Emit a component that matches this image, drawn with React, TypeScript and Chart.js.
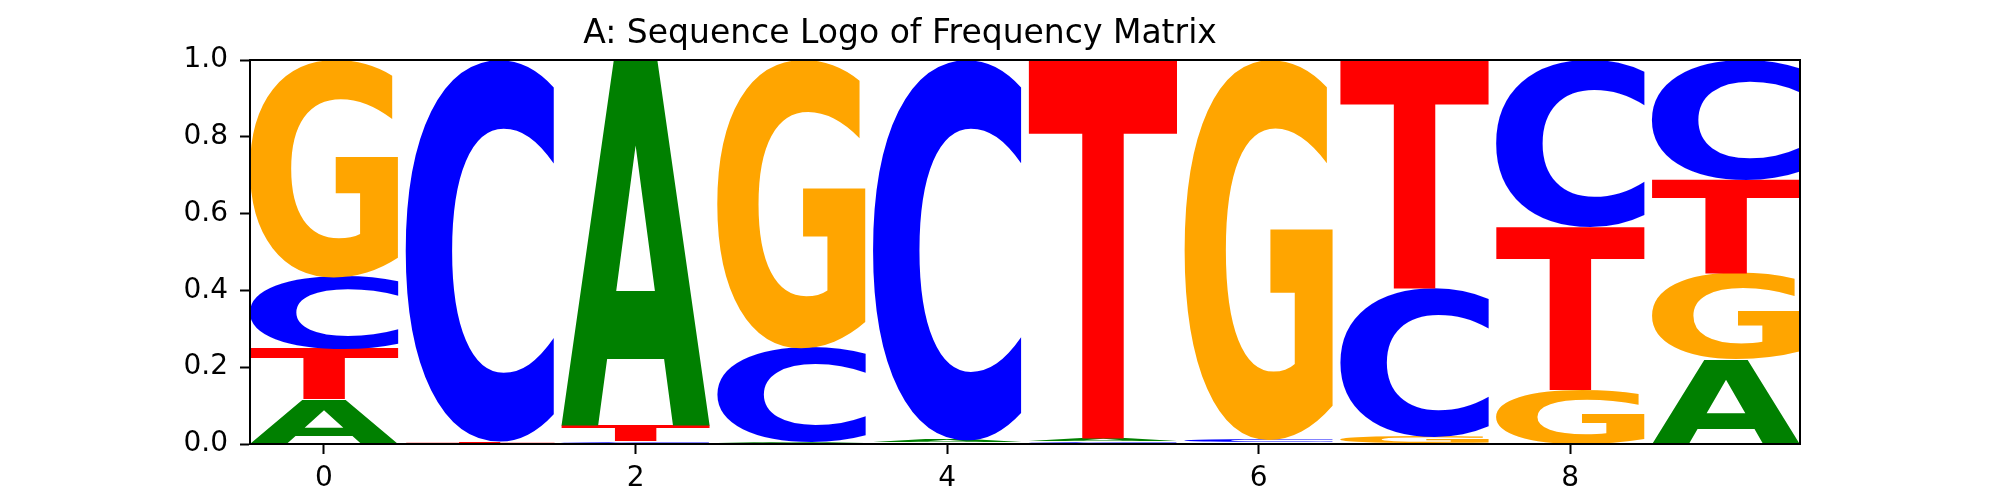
import React, { useEffect, useRef } from "react";
import { Chart, registerables } from "chart.js";

Chart.register(...registerables);

// ---- data ----
const positions = [0, 1, 2, 3, 4, 5, 6, 7, 8, 9];
const letterNames = ["A", "C", "G", "T"];
const freqA = [0.117, 0.001, 0.952, 0.004, 0.006, 0.007, 0.003, 0.003, 0.001, 0.222];
const freqC = [0.187, 0.993, 0.005, 0.244, 0.99, 0.005, 0.007, 0.385, 0.436, 0.312];
const freqG = [0.566, 0.002, 0.002, 0.75, 0.003, 0.002, 0.989, 0.017, 0.14, 0.223];
const freqT = [0.13, 0.004, 0.041, 0.002, 0.001, 0.986, 0.001, 0.595, 0.423, 0.243];
const xTickValues = [0, 2, 4, 6, 8];
const yTickValues = [0, 0.2, 0.4, 0.6, 0.8, 1.0];
const chartTitle = "A: Sequence Logo of Frequency Matrix";

const letterColors: Record<string, string> = {
  A: "#008000",
  C: "#0000ff",
  G: "#ffa500",
  T: "#ff0000",
};

const freqByLetter: Record<string, number[]> = { A: freqA, C: freqC, G: freqG, T: freqT };

// per column: letters sorted ascending by frequency (smallest at bottom)
const columns = positions.map((_, i) =>
  letterNames
    .map((l) => ({ l, v: freqByLetter[l][i] }))
    .sort((a, b) => a.v - b.v)
);

const rankDatasets = [0, 1, 2, 3].map((r) => ({
  label: "rank" + r,
  data: positions.map((p, i) => ({ x: p, y: columns[i][r].v })),
  glyphs: columns.map((c) => c[r].l),
  backgroundColor: "rgba(0,0,0,0)",
  borderWidth: 0,
  barPercentage: 1,
  categoryPercentage: 0.95,
}));

const GLYPH_SIZE = 800;
const glyphFont = `bold ${GLYPH_SIZE}px "DejaVu Sans"`;
const inkCache: Record<string, { left: number; right: number; top: number; bottom: number }> = {};

// exact ink bounds of a glyph, measured by rasterizing it once off-screen
function inkBox(ch: string) {
  if (inkCache[ch]) return inkCache[ch];
  const W = 1200, H = 1200, ox = 200, oy = 950;
  const c = document.createElement("canvas");
  c.width = W;
  c.height = H;
  const g = c.getContext("2d") as CanvasRenderingContext2D;
  g.font = glyphFont;
  g.textAlign = "left";
  g.textBaseline = "alphabetic";
  g.fillStyle = "#000";
  g.fillText(ch, ox, oy);
  const d = g.getImageData(0, 0, W, H).data;
  let minX = W, maxX = -1, minY = H, maxY = -1;
  for (let y = 0; y < H; y++) {
    for (let x = 0; x < W; x++) {
      if (d[(y * W + x) * 4 + 3] > 127) {
        if (x < minX) minX = x;
        if (x > maxX) maxX = x;
        if (y < minY) minY = y;
        if (y > maxY) maxY = y;
      }
    }
  }
  const box = { left: minX - ox, right: maxX + 1 - ox, top: minY - oy, bottom: maxY + 1 - oy };
  inkCache[ch] = box;
  return box;
}

const logoPlugin = {
  id: "logoGlyphs",
  afterDatasetsDraw(chart: any) {
    const ctx: CanvasRenderingContext2D = chart.ctx;
    chart.data.datasets.forEach((ds: any, d: number) => {
      const meta = chart.getDatasetMeta(d);
      meta.data.forEach((el: any, i: number) => {
        const { x, y, base, width } = el.getProps(["x", "y", "base", "width"], true);
        const top = Math.min(y, base);
        const bot = Math.max(y, base);
        const h = bot - top;
        if (!(h > 0)) return;
        const ch = ds.glyphs[i];
        const b = inkBox(ch);
        const inkW = b.right - b.left;
        const inkH = b.bottom - b.top;
        ctx.save();
        ctx.font = glyphFont;
        ctx.textAlign = "left";
        ctx.textBaseline = "alphabetic";
        ctx.translate(x - width / 2, top);
        ctx.scale(width / inkW, h / inkH);
        ctx.fillStyle = letterColors[ch];
        ctx.fillText(ch, -b.left, -b.top);
        ctx.restore();
      });
    });
    // axes frame (matplotlib spines)
    const a = chart.chartArea;
    ctx.save();
    ctx.strokeStyle = "#000";
    ctx.lineWidth = 2;
    ctx.strokeRect(a.left, a.top, a.right - a.left, a.bottom - a.top);
    ctx.restore();
  },
};

export default function App() {
  const ref = useRef<HTMLCanvasElement | null>(null);
  useEffect(() => {
    if (!ref.current) return;
    Chart.defaults.font.family = '"DejaVu Sans"';
    const chart = new Chart(ref.current, {
      type: "bar",
      data: { datasets: rankDatasets as any },
      plugins: [logoPlugin],
      options: {
        animation: false,
        responsive: false,
        devicePixelRatio: 1,
        layout: { padding: { left: 0, right: 200, top: 0, bottom: 0 } },
        plugins: {
          legend: { display: false },
          tooltip: { enabled: false },
          title: {
            display: true,
            text: chartTitle,
            color: "#000",
            font: { size: 33, weight: "normal", family: '"DejaVu Sans"', lineHeight: 1.2 },
            padding: { top: 15, bottom: 5.4 },
          },
        },
        scales: {
          x: {
            type: "linear",
            stacked: true,
            offset: false,
            min: -0.475,
            max: 9.475,
            afterBuildTicks: (s: any) => {
              s.ticks = xTickValues.map((v) => ({ value: v }));
            },
            afterFit: (s: any) => {
              s.height = 56;
            },
            ticks: {
              color: "#000",
              font: { size: 28 },
              padding: 8,
              maxRotation: 0,
              autoSkip: false,
              callback: (v: any) => String(v),
            },
            grid: {
              display: true,
              offset: false,
              drawOnChartArea: false,
              drawTicks: true,
              tickLength: 10,
              tickWidth: 2,
              tickColor: "#000",
            },
            border: { display: true, color: "#000", width: 2 },
          },
          y: {
            type: "linear",
            stacked: true,
            min: 0,
            max: 1,
            afterBuildTicks: (s: any) => {
              s.ticks = yTickValues.map((v) => ({ value: v }));
            },
            afterFit: (s: any) => {
              s.width = 250;
            },
            ticks: {
              color: "#000",
              font: { size: 28 },
              padding: 12,
              callback: (v: any) => Number(v).toFixed(1),
            },
            grid: {
              display: true,
              drawOnChartArea: false,
              drawTicks: true,
              tickLength: 10,
              tickWidth: 2,
              tickColor: "#000",
            },
            border: { display: true, color: "#000", width: 2 },
          },
        },
      } as any,
    });
    return () => chart.destroy();
  }, []);
  return (
    <div style={{ position: "absolute", left: 0, top: 0, width: 2000, height: 500, background: "#fff" }}>
      <canvas ref={ref} width={2000} height={500} style={{ width: 2000, height: 500, display: "block" }} />
    </div>
  );
}
